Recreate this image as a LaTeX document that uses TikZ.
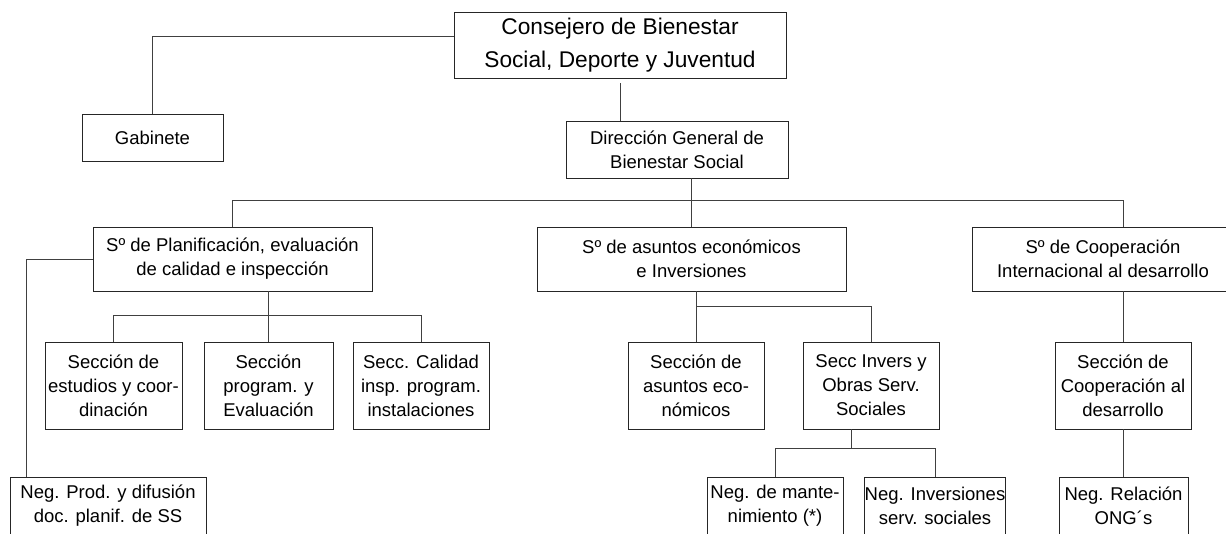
\documentclass[tikz,border=0pt]{standalone}
\usepackage{fontspec}
\setmainfont{Liberation Sans}

\begin{document}
\begin{tikzpicture}[
        x=1pt, y=-1pt,
        unit/.style={draw=black!85, line width=0.8pt, align=center, inner sep=0pt,
            font=\fontsize{18.5}{24}\selectfont},
        line/.style={line width=0.8pt, black!75}
    ]
        \useasboundingbox (0,0) rectangle (1226,534);

        % top levels
        \node[unit, minimum width=332pt, minimum height=66pt,
            font=\fontsize{22.7}{33}\selectfont] (cons) at (620,45) {Consejero de Bienestar\\Social, Deporte y Juventud};
        \node[unit, minimum width=141pt, minimum height=47pt] (gab) at (152.5,137.5) {Gabinete};
        \node[unit, minimum width=222pt, minimum height=57pt] (dir) at (677,149.5) {Dirección General de\\Bienestar Social};

        % servicios
        \node[unit, minimum width=279pt, minimum height=64pt] (planif) at (232.5,259) {Sº de Planificación, evaluación\\de calidad e inspección};
        \node[unit, minimum width=309pt, minimum height=64pt] (econ) at (691.5,259) {Sº de asuntos económicos\\e Inversiones};
        \node[unit, minimum width=262pt, minimum height=64pt] (coop) at (1103,259) {Sº de Cooperación\\Internacional al desarrollo};

        % secciones
        \node[unit, minimum width=137pt, minimum height=87pt] (estud) at (113.5,385.5) {Sección de\\estudios y coor-\\dinación};
        \node[unit, minimum width=129pt, minimum height=87pt] (progr) at (268.5,385.5) {Sección\\program. y\\Evaluación};
        \node[unit, minimum width=136pt, minimum height=87pt] (calid) at (421,385.5) {Secc. Calidad\\insp. program.\\instalaciones};
        \node[unit, minimum width=136pt, minimum height=87pt] (aseco) at (696,385.5) {Sección de\\asuntos eco-\\nómicos};
        \node[unit, minimum width=136pt, minimum height=87pt] (invers) at (871,385.5) {Secc Invers y\\Obras Serv.\\Sociales};
        \node[unit, minimum width=136pt, minimum height=87pt] (cooper) at (1123,385.5) {Sección de\\Cooperación al\\desarrollo};

        % negociados
        \node[unit, minimum width=196pt, minimum height=58pt] (negprod) at (108,506) {Neg. Prod. y difusión\\doc. planif. de SS};
        \node[unit, minimum width=136pt, minimum height=58pt] (negmant) at (775,506) {Neg. de mante-\\nimiento (*)};
        \node[unit, minimum width=138pt, minimum height=58pt] (neginv) at (935,506) {Neg. Inversiones\\serv. sociales};
        \node[unit, minimum width=129pt, minimum height=58pt] (negong) at (1123.5,506) {Neg. Relación\\ONG´s};

        \draw[line] ([yshift=9pt]cons.west) -| (gab.north);
        \draw[line, shorten <=5pt] (cons.south) -- (cons.south |- dir.north);
        \draw[line] (dir.south -| econ.north) -- (econ.north);
        \draw[line] (planif.north) -- ++(0,-26) -| (cooper.north |- coop.north);
        \draw[line] (planif.west) -| ([xshift=-82pt]negprod.north);

        \draw[line] (progr.north |- planif.south) -- (progr.north);
        \draw[line] (estud.north) -- ++(0,-26) -| (calid.north);

        \draw[line] (aseco.north |- econ.south) -- (aseco.north);
        \draw[line] (invers.north) -- ++(0,-35) -| (aseco.north);
        \draw[line] ([xshift=-20pt]invers.south) -- ++(0,20);
        \draw[line] (negmant.north) -- ++(0,-28) -| (neginv.north);

        \draw[line] (cooper.north) -- (cooper.north |- coop.south);
        \draw[line] (negong.north |- cooper.south) -- (negong.north);
    \end{tikzpicture}
\end{document}
